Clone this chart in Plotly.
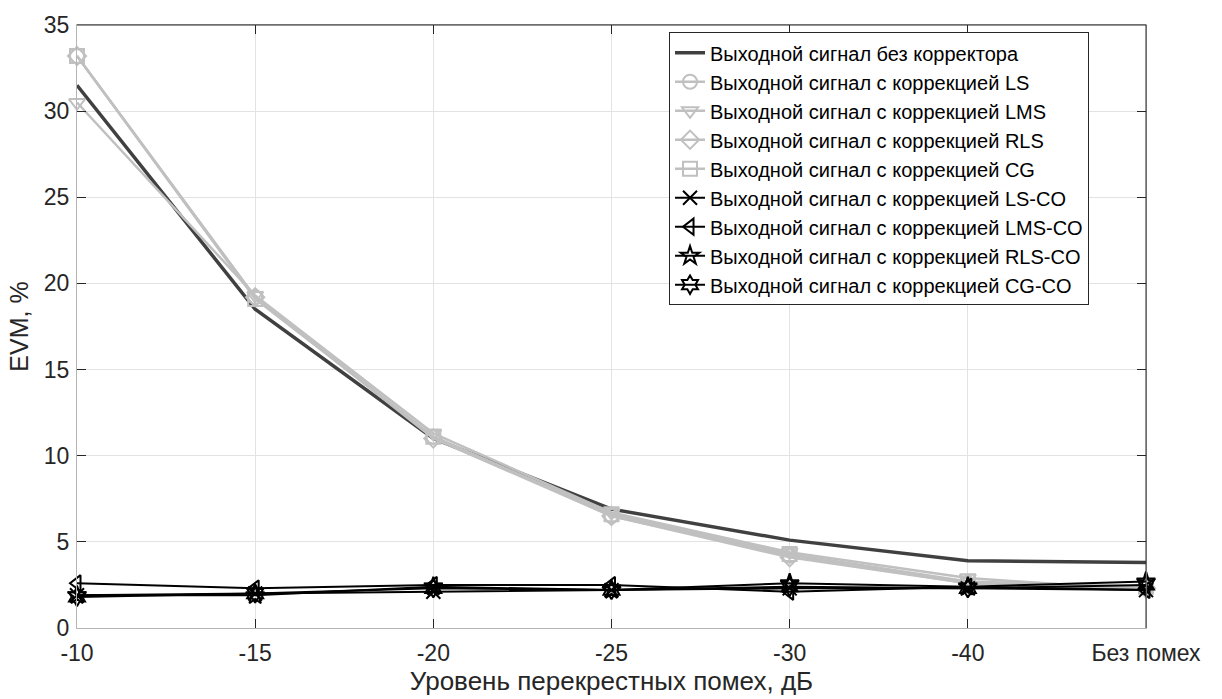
import plotly.graph_objects as go

# Crosstalk levels (categorical x axis)
categories = ["-10", "-15", "-20", "-25", "-30", "-40", "Без помех"]

# EVM, % for each output signal
evm_none = [31.5, 18.5, 11.0, 6.9, 5.1, 3.9, 3.8]
evm_ls = [33.2, 19.2, 11.1, 6.5, 4.2, 2.6, 2.3]
evm_lms = [30.5, 19.3, 11.3, 6.7, 4.4, 2.9, 2.2]
evm_rls = [33.2, 19.2, 11.0, 6.5, 4.1, 2.6, 2.3]
evm_cg = [33.2, 19.1, 11.1, 6.6, 4.3, 2.7, 2.4]
evm_ls_co = [1.9, 2.0, 2.1, 2.2, 2.3, 2.3, 2.2]
evm_lms_co = [2.6, 2.3, 2.5, 2.5, 2.1, 2.4, 2.2]
evm_rls_co = [1.9, 1.9, 2.4, 2.2, 2.6, 2.4, 2.7]
evm_cg_co = [1.8, 2.0, 2.3, 2.2, 2.4, 2.3, 2.5]

xi = list(range(len(categories)))

LIGHT = "#c0c0c0"
DARK = "#404040"
BLACK = "#000000"
AXIS = "#262626"

series = [
    ("Выходной сигнал без корректора", evm_none, DARK, None, 3.5),
    ("Выходной сигнал с коррекцией LS", evm_ls, LIGHT, "circle-open", 2.5),
    ("Выходной сигнал с коррекцией LMS", evm_lms, LIGHT, "triangle-down-open", 2.5),
    ("Выходной сигнал с коррекцией RLS", evm_rls, LIGHT, "diamond-open", 2.5),
    ("Выходной сигнал с коррекцией CG", evm_cg, LIGHT, "square-open", 2.5),
    ("Выходной сигнал с коррекцией LS-CO", evm_ls_co, BLACK, "x-thin-open", 2),
    ("Выходной сигнал с коррекцией LMS-CO", evm_lms_co, BLACK, "triangle-left-open", 2),
    ("Выходной сигнал с коррекцией RLS-CO", evm_rls_co, BLACK, "star-open", 2),
    ("Выходной сигнал с коррекцией CG-CO", evm_cg_co, BLACK, "hexagram-open", 2),
]

fig = go.Figure()
for name, vals, color, sym, lw in series:
    if sym is None:
        fig.add_trace(go.Scatter(
            x=xi, y=vals, name=name, mode="lines", cliponaxis=False,
            line=dict(color=color, width=lw),
        ))
    else:
        fig.add_trace(go.Scatter(
            x=xi, y=vals, name=name, mode="lines+markers", cliponaxis=False,
            line=dict(color=color, width=lw),
            marker=dict(symbol=sym, size=14, color=color,
                        line=dict(color=color, width=2)),
        ))

FONT = "Liberation Sans, Arial, sans-serif"

# dark frame on the top and right edges of the plot box
fig.add_shape(type="line", xref="paper", yref="paper", x0=0, x1=1, y0=1, y1=1,
              line=dict(color=AXIS, width=1), layer="above")
fig.add_shape(type="line", xref="paper", yref="paper", x0=1, x1=1, y0=0, y1=1,
              line=dict(color=AXIS, width=1), layer="above")

fig.update_layout(
    width=1222, height=699,
    margin=dict(l=77, r=76, t=21, b=71),
    paper_bgcolor="white", plot_bgcolor="white",
    font=dict(family=FONT, size=23, color="#262626"),
    showlegend=True,
    legend=dict(
        x=0.9467, y=0.988, xanchor="right", yanchor="top",
        bgcolor="white", bordercolor=AXIS, borderwidth=1,
        font=dict(family=FONT, size=20, color="#000000"),
        itemwidth=30, tracegroupgap=0,
    ),
    xaxis=dict(
        range=[0, len(categories) - 1],
        tickmode="array", tickvals=xi, ticktext=categories,
        showgrid=True, gridcolor="#e3e3e3", gridwidth=1,
        zeroline=False,
        showline=True, linecolor="#b5b5b5", linewidth=1, mirror="ticks",
        ticks="inside", ticklen=9, tickcolor=AXIS,
        ticklabelstandoff=4,
        title=dict(text="Уровень перекрестных помех, дБ",
                   font=dict(size=26), standoff=2),
        tickfont=dict(size=23),
    ),
    yaxis=dict(
        range=[0, 35], tickmode="array", tickvals=list(range(0, 36, 5)),
        showgrid=True, gridcolor="#e3e3e3", gridwidth=1,
        zeroline=False,
        showline=True, linecolor="#b5b5b5", linewidth=1, mirror="ticks",
        ticks="inside", ticklen=9, tickcolor=AXIS,
        ticklabelstandoff=2,
        title=dict(text="EVM, %", font=dict(size=25), standoff=8),
        tickfont=dict(size=23),
    ),
)

fig.write_html("out.html")
